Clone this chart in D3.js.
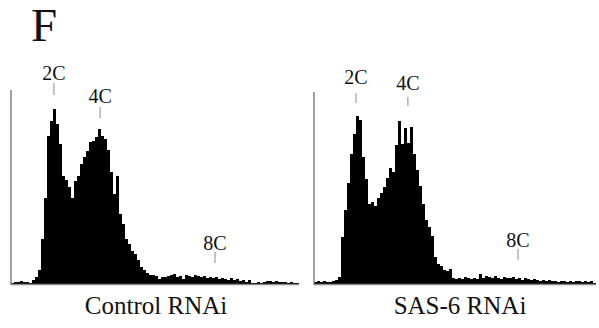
<!DOCTYPE html>
<html>
<head>
<meta charset="utf-8">
<script src="https://cdn.jsdelivr.net/npm/d3@7"></script>
<style>
  html, body { margin: 0; padding: 0; background: #fff; }
  svg { display: block; }
  text { font-family: "Liberation Serif", "DejaVu Serif", serif; }
</style>
</head>
<body>
<svg id="chart" width="599" height="328"></svg>
<script>
// DNA content histograms (counts per channel bin)
const controlCounts = [
  1, 2, 2, 3, 2, 2, 1, 4, 7, 14,
  45, 86, 148, 163, 175, 160, 140, 108, 104, 97,
  86, 103, 108, 120, 127, 133, 142, 143, 147, 155,
  148, 145, 134, 112, 90, 108, 70, 60, 45, 40,
  33, 30, 24, 17, 14, 11, 9, 9, 8, 5,
  7, 7, 8, 9, 10, 7, 8, 5, 9, 8,
  7, 9, 8, 7, 8, 6, 7, 6, 7, 5,
  6, 5, 4, 6, 4, 5, 3, 4, 2, 4,
  1, 1, 2, 1, 2, 3, 3, 2, 3, 2,
  2, 2, 1, 2, 1, 1
];
const sas6Counts = [
  2, 3, 2, 3, 2, 2, 3, 4, 7, 47,
  74, 101, 130, 150, 168, 164, 127, 105, 80, 82,
  78, 86, 91, 97, 106, 116, 112, 139, 163, 140,
  156, 141, 157, 130, 114, 98, 80, 64, 57, 48,
  27, 20, 18, 14, 13, 15, 6, 5, 6, 5,
  7, 6, 5, 6, 5, 10, 6, 8, 7, 6,
  8, 6, 5, 7, 6, 6, 7, 5, 6, 4,
  6, 5, 4, 5, 4, 3, 4, 3, 4, 3,
  3, 2, 3, 3, 2, 3, 2, 3, 3, 2,
  3, 2, 3, 1
];
const panelTitles = ["Control RNAi", "SAS-6 RNAi"];
const ploidyLabels = ["2C", "4C", "8C"];
// ploidy marker positions, in channel bins, per panel
const controlMarks = [14.3, 29.7, 68];
const sas6Marks = [14, 31.3, 68];
const yMax = 194;

const svg = d3.select("#chart");
const axisColor = "#8a8a8a";

svg.append("text").attr("x", 31).attr("y", 41)
  .attr("font-size", 47).attr("fill", "#111")
  .text("F");

const panels = [
  { counts: controlCounts, marks: controlMarks, title: panelTitles[0],
    x0: 11, x1: 299, top: 90,
    labelY: [80, 103, 250], tickY: [[83, 95], [107, 118], [252, 263]], titleX: 156 },
  { counts: sas6Counts, marks: sas6Marks, title: panelTitles[1],
    x0: 314, x1: 596, top: 92,
    labelY: [84, 90, 247], tickY: [[93, 103], [97, 106], [249, 260]], titleX: 460 }
];

const base = 284;
const yS = d3.scaleLinear([0, yMax], [base, 90]);

panels.forEach(p => {
  const xS = d3.scaleLinear([0, p.counts.length], [p.x0, p.x1]);
  const g = svg.append("g");

  // Histogram as a stepped area
  const pts = p.counts.map((c, i) => [i, c]);
  pts.push([p.counts.length, p.counts[p.counts.length - 1]]);
  g.append("path").datum(pts)
    .attr("d", d3.area().x(d => xS(d[0])).y0(yS(0)).y1(d => yS(d[1])).curve(d3.curveStepAfter))
    .attr("fill", "#000");

  // Axes
  g.append("line").attr("x1", p.x0).attr("x2", p.x0).attr("y1", p.top).attr("y2", base + 1)
    .attr("stroke", axisColor).attr("stroke-width", 1.6);
  g.append("line").attr("x1", p.x0).attr("x2", p.x1).attr("y1", base + 0.5).attr("y2", base + 0.5)
    .attr("stroke", axisColor).attr("stroke-width", 1.6);

  // Ploidy markers
  p.marks.forEach((m, k) => {
    const mx = xS(m);
    g.append("line").attr("x1", mx).attr("x2", mx)
      .attr("y1", p.tickY[k][0]).attr("y2", p.tickY[k][1])
      .attr("stroke", axisColor).attr("stroke-width", 1);
    g.append("text").attr("x", mx).attr("y", p.labelY[k])
      .attr("text-anchor", "middle").attr("font-size", 20)
      .attr("fill", "#111").text(ploidyLabels[k]);
  });

  // Panel title
  svg.append("text").attr("x", p.titleX).attr("y", 314)
    .attr("text-anchor", "middle").attr("font-size", 25)
    .attr("fill", "#111").text(p.title);
});
</script>
</body>
</html>
